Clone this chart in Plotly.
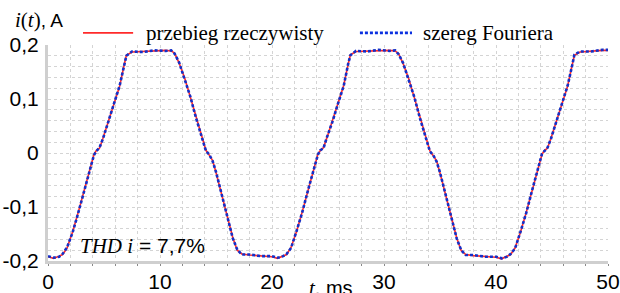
import plotly.graph_objects as go

# time, ms
t_ms = [0.0, 0.5, 1.0, 1.3, 1.7, 2.2, 2.7, 3.2, 3.7, 4.1, 4.3, 4.6, 4.9, 5.4, 5.9, 6.4, 6.8, 7.0, 7.5, 8.5,
        9.5, 10.5, 11.0, 11.3, 11.7, 12.2, 12.7, 13.2, 13.7, 14.1, 14.4, 14.7, 15.0, 15.5, 16.0, 16.5, 16.9, 17.3, 18.0, 19.0,
        20.0, 20.5, 21.0, 21.3, 21.7, 22.2, 22.7, 23.2, 23.7, 24.1, 24.3, 24.6, 24.9, 25.4, 25.9, 26.4, 26.8, 27.0, 27.5, 28.5,
        29.5, 30.5, 31.0, 31.3, 31.7, 32.2, 32.7, 33.2, 33.7, 34.1, 34.4, 34.7, 35.0, 35.5, 36.0, 36.5, 36.9, 37.3, 38.0, 39.0,
        40.0, 40.5, 41.0, 41.3, 41.7, 42.2, 42.7, 43.2, 43.7, 44.1, 44.3, 44.6, 44.9, 45.4, 45.9, 46.4, 46.8, 47.0, 47.5, 48.5,
        49.5, 50.0]

# measured current, A
i_real = [-0.192, -0.195, -0.191, -0.188, -0.176, -0.146, -0.110, -0.072, -0.031, -0.003, 0.004, 0.009, 0.027, 0.058, 0.090, 0.124, 0.163, 0.181, 0.187, 0.188,
          0.189, 0.190, 0.189, 0.185, 0.167, 0.139, 0.104, 0.067, 0.030, 0.005, -0.004, -0.014, -0.036, -0.077, -0.118, -0.157, -0.180, -0.187, -0.189, -0.190,
          -0.192, -0.195, -0.190, -0.188, -0.175, -0.145, -0.109, -0.071, -0.030, -0.002, 0.004, 0.010, 0.028, 0.059, 0.091, 0.125, 0.164, 0.182, 0.188, 0.189,
          0.190, 0.190, 0.189, 0.184, 0.166, 0.138, 0.103, 0.066, 0.029, 0.004, -0.005, -0.015, -0.037, -0.078, -0.119, -0.158, -0.181, -0.188, -0.190, -0.191,
          -0.193, -0.196, -0.191, -0.188, -0.176, -0.146, -0.110, -0.072, -0.031, -0.003, 0.004, 0.009, 0.027, 0.058, 0.090, 0.124, 0.163, 0.181, 0.187, 0.189,
          0.190, 0.190]

# Fourier series approximation, A
i_fourier = [-0.191, -0.194, -0.192, -0.187, -0.175, -0.147, -0.111, -0.071, -0.032, -0.004, 0.003, 0.010, 0.026, 0.059, 0.089, 0.125, 0.162, 0.180, 0.188, 0.187,
             0.190, 0.189, 0.190, 0.184, 0.168, 0.138, 0.105, 0.066, 0.031, 0.004, -0.003, -0.015, -0.035, -0.078, -0.117, -0.158, -0.179, -0.188, -0.188, -0.191,
             -0.191, -0.194, -0.191, -0.187, -0.176, -0.144, -0.110, -0.070, -0.031, -0.003, 0.005, 0.009, 0.029, 0.058, 0.092, 0.124, 0.165, 0.181, 0.189, 0.188,
             0.191, 0.189, 0.190, 0.183, 0.167, 0.137, 0.104, 0.065, 0.030, 0.003, -0.004, -0.016, -0.036, -0.079, -0.118, -0.159, -0.180, -0.189, -0.189, -0.192,
             -0.192, -0.195, -0.192, -0.187, -0.177, -0.145, -0.111, -0.071, -0.032, -0.002, 0.003, 0.010, 0.026, 0.059, 0.089, 0.125, 0.162, 0.182, 0.188, 0.188,
             0.191, 0.191]

x_ticks = [0, 10, 20, 30, 40, 50]
x_ticktext = ["0", "10", "20", "30", "40", "50"]
y_ticks = [-0.2, -0.1, 0.0, 0.1, 0.2]
y_ticktext = ["-0,2", "-0,1", "0", "0,1", "0,2"]

name_real = "przebieg rzeczywisty"
name_fourier = "szereg Fouriera"

RED = "#ff2a2a"
BLUE = "#1430c8"
SANS = "Liberation Sans, Arial, sans-serif"
SERIF = "Liberation Serif, Times New Roman, serif"

fig = go.Figure()
fig.add_trace(go.Scatter(x=t_ms, y=i_real, mode="lines", name=name_real,
                         line=dict(color=RED, width=1.6)))
fig.add_trace(go.Scatter(x=t_ms, y=i_fourier, mode="lines", name=name_fourier,
                         line=dict(color=BLUE, width=2.6, dash="3px,2px")))

grid = dict(showgrid=True, gridcolor="#d4d4d4", gridwidth=1, griddash="dot")

fig.update_layout(
    width=620, height=293,
    margin=dict(l=48, r=12, t=45, b=32, autoexpand=False),
    paper_bgcolor="white", plot_bgcolor="white",
    showlegend=False,
    xaxis=dict(range=[0, 50], tickmode="array", tickvals=x_ticks, ticktext=x_ticktext,
               tickfont=dict(family=SANS, size=21, color="black"), automargin=False,
               showline=True, linecolor="#cfcfcf", linewidth=3, ticks="", zeroline=False,
               minor=dict(dtick=2, tick0=0, showgrid=True, gridcolor="#d4d4d4", griddash="dot",
                          ticks="outside", ticklen=2, tickcolor="#888888"),
               **grid),
    yaxis=dict(range=[-0.2, 0.2], tickmode="array", tickvals=y_ticks, ticktext=y_ticktext,
               tickfont=dict(family=SANS, size=21, color="black"), ticklabelstandoff=2, automargin=False,
               showline=True, linecolor="#cfcfcf", linewidth=3, ticks="", zeroline=False,
               minor=dict(dtick=0.02, tick0=0, showgrid=True, gridcolor="#d4d4d4", griddash="dot"),
               **grid),
)

# manual legend (samples + labels)
legend_y = 1.056
fig.add_shape(type="line", xref="paper", yref="paper", x0=0.0625, x1=0.152, y0=legend_y, y1=legend_y,
              line=dict(color=RED, width=1.6))
fig.add_shape(type="line", xref="paper", yref="paper", x0=0.557, x1=0.65, y0=legend_y, y1=legend_y,
              line=dict(color="#0a30e0", width=2.6, dash="3px,2px"))
fig.add_annotation(xref="paper", yref="paper", x=0.171, y=legend_y, xanchor="left", yanchor="middle",
                   text=name_real, showarrow=False, font=dict(family=SERIF, size=21, color="black"))
fig.add_annotation(xref="paper", yref="paper", x=0.666, y=legend_y, xanchor="left", yanchor="middle",
                   text=name_fourier, showarrow=False, font=dict(family=SERIF, size=21, color="black"))

# axis titles and THD note (mixed serif italic + sans)
fig.add_annotation(xref="paper", yref="paper", x=-0.062, y=1.116, xanchor="left", yanchor="middle",
                   text='<i>i</i>(<i>t</i>)<span style="font-family:Liberation Sans;font-size:19px">, A</span>',
                   showarrow=False, font=dict(family=SERIF, size=21, color="black"))
fig.add_annotation(xref="paper", yref="paper", x=0.462, y=-0.062, xanchor="left", yanchor="top",
                   text='<i>t</i><span style="font-family:Liberation Sans;font-size:20px">, ms</span>',
                   showarrow=False, font=dict(family=SERIF, size=21, color="black"))
fig.add_annotation(xref="paper", yref="paper", x=0.053, y=0.069, xanchor="left", yanchor="middle",
                   text='<i>THD i</i><span style="font-family:Liberation Sans;font-size:21px"> = 7,7%</span>',
                   showarrow=False, font=dict(family=SERIF, size=21, color="black"))

fig.write_html("out.html", config={"displayModeBar": False},
               post_script="document.body.style.margin='0px';")
